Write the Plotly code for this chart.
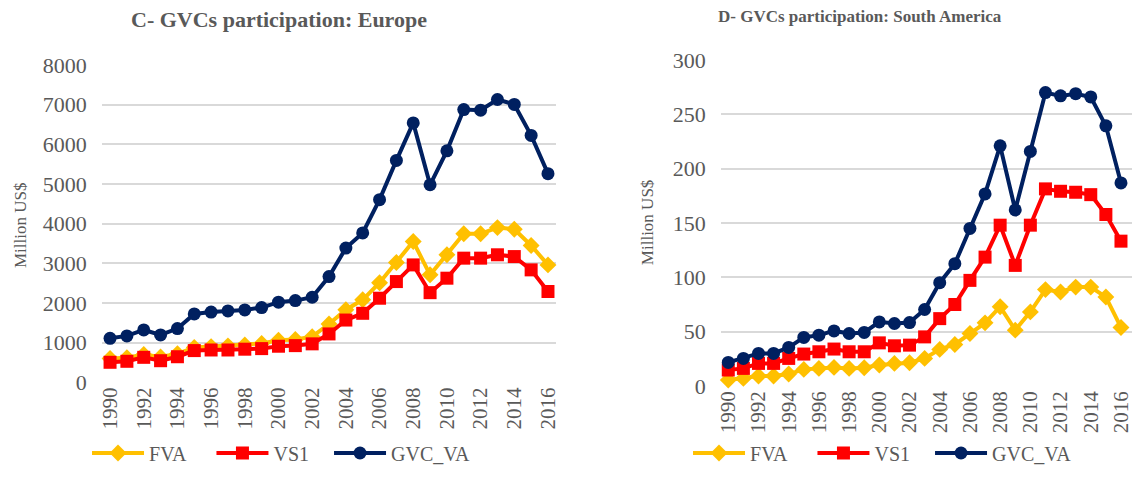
import plotly.graph_objects as go

years = list(range(1990, 2017))

# Europe (Million US$)
eu_fva = [600, 620, 700, 640, 720, 880, 900, 920, 940, 980, 1060, 1080, 1150, 1470,
          1830, 2080, 2510, 3020, 3550, 2710, 3215, 3745, 3745, 3900, 3860, 3450, 2960]
eu_vs1 = [505, 530, 630, 545, 645, 800, 815, 815, 835, 850, 910, 925, 970, 1220,
          1570, 1740, 2120, 2540, 2960, 2260, 2625, 3130, 3130, 3215, 3170, 2835, 2290]
eu_gvc = [1110, 1170, 1320, 1195, 1355, 1725, 1770, 1800, 1825, 1885, 2020, 2060, 2145, 2665,
          3385, 3765, 4605, 5595, 6540, 4980, 5835, 6875, 6860, 7130, 7005, 6225, 5260]

# South America (Million US$)
sa_fva = [5.5, 7, 9.2, 9.2, 11, 15.3, 16.2, 17.1, 16.2, 16.8, 19.3, 20.8, 21.4, 25.4,
          33.7, 38.2, 48.3, 58.1, 73, 51.4, 68.2, 88.7, 86.5, 91, 91, 81.9, 53.9]
sa_vs1 = [14.7, 16.2, 20.8, 20.8, 25.4, 29.4, 31.5, 34, 31.5, 31.5, 39.7, 37, 37.6, 45.2,
          62, 75, 97.2, 118.6, 148, 111, 148, 181.4, 179.2, 178.3, 176.1, 157.8, 133.3]
sa_gvc = [21.7, 25.4, 30, 30, 35.5, 44.7, 46.8, 50.7, 48.3, 49.3, 59, 57.5, 58.4, 70.4,
          95.1, 112.6, 145, 176.8, 221, 162, 215.9, 270, 267, 269, 266, 239.4, 186.9]

colors = {"FVA": "#FFC000", "VS1": "#FF0000", "GVC_VA": "#002060"}
symbols = {"FVA": "diamond", "VS1": "square", "GVC_VA": "circle"}
# trailing non-breaking spaces widen the legend entries like the original
pads = {"FVA": "\u00a0" * 4, "VS1": "\u00a0" * 3, "GVC_VA": ""}

font_family = "Liberation Serif"
grey = "#595959"

fig = go.Figure()

panels = [
    ("x", "y", "legend", {"FVA": eu_fva, "VS1": eu_vs1, "GVC_VA": eu_gvc}),
    ("x2", "y2", "legend2", {"FVA": sa_fva, "VS1": sa_vs1, "GVC_VA": sa_gvc}),
]
for xa, ya, leg, series in panels:
    for name, vals in series.items():
        fig.add_trace(go.Scatter(
            x=years, y=vals, name=name + pads[name], mode="lines+markers",
            xaxis=xa, yaxis=ya, legend=leg, cliponaxis=False,
            line=dict(color=colors[name], width=4),
            marker=dict(color=colors[name], symbol=symbols[name], size=13),
        ))

xcommon = dict(tickmode="linear", tick0=1990, dtick=2,
               tickangle=-90, showgrid=False, zeroline=False, showline=False,
               tickfont=dict(family=font_family, size=21, color=grey), ticks="",
               automargin=False, ticklabeloverflow="allow")
ycommon = dict(showgrid=True, gridcolor="#D9D9D9", gridwidth=1.5, zeroline=False,
               showline=False, tickfont=dict(family=font_family, size=22, color=grey),
               ticks="", automargin=False, ticklabelstandoff=14)

legend_font = dict(family=font_family, size=20, color=grey)

# page body has an 8px margin, so the figure is a bit smaller than the window
fig.update_layout(
    width=1124, height=478,
    margin=dict(l=0, r=0, t=0, b=0, autoexpand=False),
    paper_bgcolor="white", plot_bgcolor="white",
    xaxis=dict(domain=[0.0833, 0.4879], range=[1989.5, 2016.5], anchor="y", **xcommon),
    yaxis=dict(domain=[0.2169, 0.8808], range=[0, 8000], dtick=1000, anchor="x", **ycommon),
    xaxis2=dict(domain=[0.6341, 0.9996], range=[1989.5, 2016.7], anchor="y2", **xcommon),
    yaxis2=dict(domain=[0.2092, 0.8912], range=[0, 300], dtick=50, anchor="x2", **ycommon),
    legend=dict(orientation="h", x=0.0703, y=0.069, xanchor="left", yanchor="middle",
                font=legend_font, itemwidth=52),
    legend2=dict(orientation="h", x=0.605, y=0.069, xanchor="left", yanchor="middle",
                 font=legend_font, itemwidth=52),
    annotations=[
        dict(text="<b>C- GVCs participation: Europe</b>", x=0.2411, y=0.9749,
             xref="paper", yref="paper", xanchor="center", yanchor="middle",
             showarrow=False, font=dict(family=font_family, size=22, color=grey)),
        dict(text="<b>D- GVCs participation: South America</b>", x=0.758, y=0.9812,
             xref="paper", yref="paper", xanchor="center", yanchor="middle",
             showarrow=False, font=dict(family=font_family, size=17, color=grey)),
        dict(text="Million US$", x=0.0107, y=0.546, xref="paper", yref="paper", textangle=-90,
             xanchor="center", yanchor="middle",
             showarrow=False, font=dict(family=font_family, size=17, color=grey)),
        dict(text="Million US$", x=0.5685, y=0.552, xref="paper", yref="paper", textangle=-90,
             xanchor="center", yanchor="middle",
             showarrow=False, font=dict(family=font_family, size=17, color=grey)),
    ],
)

fig.write_html("out.html")
